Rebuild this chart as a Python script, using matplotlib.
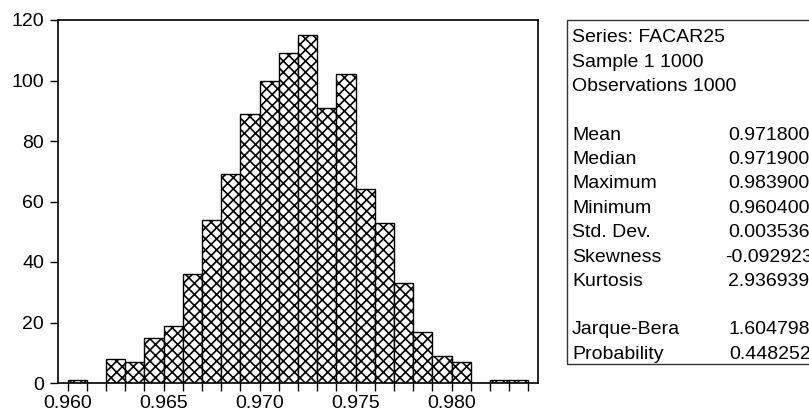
import matplotlib
matplotlib.use("Agg")
import matplotlib.pyplot as plt
import numpy as np
from matplotlib.patches import Rectangle

plt.rcParams['font.family'] = ['Liberation Sans', 'DejaVu Sans']
plt.rcParams['hatch.linewidth'] = 1.2

# histogram of FACAR25, bins of width 0.001
bin_left = [0.960, 0.961, 0.962, 0.963, 0.964, 0.965, 0.966, 0.967, 0.968, 0.969,
            0.970, 0.971, 0.972, 0.973, 0.974, 0.975, 0.976, 0.977, 0.978, 0.979,
            0.980, 0.981, 0.982, 0.983]
counts = [1, 0, 8, 7, 15, 19, 36, 54, 69, 89,
          100, 109, 115, 91, 102, 64, 53, 33, 17, 9,
          7, 0, 1, 1]
bin_width = 0.001

x_major = [0.960, 0.965, 0.970, 0.975, 0.980]
x_labels = ['0.960', '0.965', '0.970', '0.975', '0.980']
y_ticks = [0, 20, 40, 60, 80, 100, 120]

header = ['Series: FACAR25', 'Sample 1 1000', 'Observations 1000']
stat_names = ['Mean', 'Median', 'Maximum', 'Minimum', 'Std. Dev.', 'Skewness', 'Kurtosis']
stat_values = ['0.971800', '0.971900', '0.983900', '0.960400', '0.003536', '-0.092923', '2.936939']
test_names = ['Jarque-Bera', 'Probability']
test_values = ['1.604798', '0.448252']

W, H = 809, 416
fig = plt.figure(figsize=(W / 100, H / 100), dpi=100)
ax = fig.add_axes([58 / W, 1 - 383 / H, 480 / W, 363 / H])

ax.bar(bin_left, counts, width=bin_width, align='edge', color='white',
       edgecolor='black', linewidth=1.0, hatch='xxx')

ax.set_xlim(0.9595, 0.9845)
ax.set_ylim(0, 120)
ax.set_xticks(x_major)
ax.set_xticklabels(x_labels)
ax.set_xticks(np.arange(0.960, 0.9845, 0.001), minor=True)
ax.set_yticks(y_ticks)
ax.tick_params(axis='both', which='both', direction='out', length=6, width=1,
               labelsize=14, color='black')
ax.tick_params(axis='x', which='both', pad=3)
ax.tick_params(axis='y', pad=4)
for s in ax.spines.values():
    s.set_linewidth(1.2)

# statistics box (runs past the right edge of the figure)
fig.patches.append(Rectangle((567 / W, 1 - 364 / H), 260 / W, 344 / H,
                             transform=fig.transFigure, fill=False,
                             edgecolor='#333333', linewidth=1.0, clip_on=False))

fs = 14
y = 38
for t in header:
    fig.text(572 / W, 1 - y / H, t, fontsize=fs, va='center', ha='left')
    y += 24.4
y = 135
for n, v in zip(stat_names, stat_values):
    fig.text(572 / W, 1 - y / H, n, fontsize=fs, va='center', ha='left')
    xv = 725 if v.startswith('-') else 728
    fig.text(xv / W, 1 - y / H, v, fontsize=fs, va='center', ha='left')
    y += 24.4
y = 330
for n, v in zip(test_names, test_values):
    fig.text(572 / W, 1 - y / H, n, fontsize=fs, va='center', ha='left')
    fig.text(729 / W, 1 - y / H, v, fontsize=fs, va='center', ha='left')
    y += 24.8

fig.savefig('out.png', dpi=100)
